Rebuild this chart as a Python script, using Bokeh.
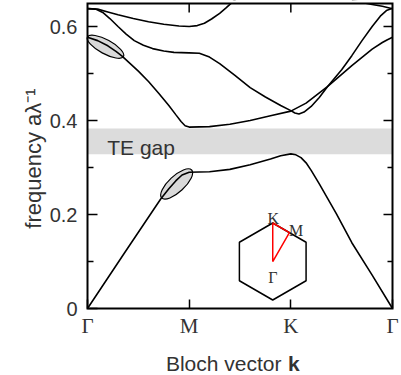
import numpy as np
from bokeh.plotting import figure
from bokeh.models import Range1d, FixedTicker, Label
from bokeh.embed import file_html
from bokeh.resources import INLINE

# ---------------- data ----------------
k_ticks = [0, 1, 2, 3]
k_tick_labels = ["Γ", "M", "K", "Γ"]
f_ticks = [0, 0.2, 0.4, 0.6]
f_minor_ticks = [0.1, 0.3, 0.5]
f_top = 0.649

gap_lo, gap_hi = 0.328, 0.383

band1_k = [0, 0.36, 0.72, 0.80, 0.87, 0.93, 1.0, 1.2, 1.4, 1.6, 1.8, 1.9, 2.0, 2.05,
           2.1, 2.15, 2.2, 2.28, 2.45, 2.6, 2.8, 3.0]
band1_f = [0, 0.117, 0.233, 0.255, 0.272, 0.284, 0.290, 0.291, 0.296, 0.306, 0.318, 0.325,
           0.329, 0.327, 0.321, 0.310, 0.294, 0.265, 0.201, 0.140, 0.071, 0.0]

band2_k = [0, 0.1, 0.2, 0.28, 0.34, 0.5, 0.6, 0.7, 0.8, 0.87, 0.92, 0.96, 1.0, 1.2, 1.4,
           1.6, 1.8, 2.0, 2.15, 2.36, 2.6, 2.8, 2.9, 2.95, 3.0]
band2_f = [0.577, 0.570, 0.559, 0.547, 0.537, 0.505, 0.483, 0.458, 0.432, 0.412, 0.398,
           0.389, 0.386, 0.387, 0.392, 0.400, 0.410, 0.420, 0.437, 0.472, 0.517, 0.552,
           0.566, 0.572, 0.577]

band3_k = [0, 0.08, 0.15, 0.22, 0.3, 0.38, 0.46, 0.55, 0.64, 0.75, 0.85, 1.0, 1.1, 1.2,
           1.3, 1.45, 1.6, 1.75, 1.9, 2.0, 2.04, 2.08, 2.13, 2.2, 2.28, 2.36, 2.5, 2.6,
           2.7, 2.8, 2.88, 2.94, 3.0]
band3_f = [0.638, 0.637, 0.630, 0.617, 0.600, 0.584, 0.570, 0.560, 0.553, 0.548, 0.545,
           0.544, 0.543, 0.535, 0.521, 0.496, 0.470, 0.450, 0.432, 0.421, 0.416, 0.414,
           0.418, 0.430, 0.449, 0.472, 0.508, 0.538, 0.570, 0.600, 0.622, 0.634, 0.639]

band4_k = [0, 0.1, 0.2, 0.3, 0.45, 0.6, 0.75, 0.9, 1.0, 1.08, 1.15, 1.22, 1.3, 1.36, 1.42, 1.46]
band4_f = [0.638, 0.637, 0.631, 0.625, 0.617, 0.610, 0.605, 0.601, 0.600, 0.602, 0.607,
           0.616, 0.628, 0.639, 0.651, 0.658]

band5_k = [2.6, 2.7, 2.8, 2.9, 3.0]
band5_f = [0.655, 0.651, 0.647, 0.643, 0.638]

# highlighted regions (centres in k / frequency)
mark_k = [0.177, 0.877]
mark_f = [0.557, 0.265]

# Brillouin-zone inset centre (k / frequency)
inset_k, inset_f = 1.822, 0.100

# ---------------- layout (pixels) ----------------
W, H = 401, 375
FL, FR, FT, FB = 87, 392, 3, 308       # plot box edges on the canvas
px_x = (FR - FL) / 3.0
px_y = (FB - FT) / f_top
x_lo, x_hi = -FL / px_x, 3 + (W - FR) / px_x
y_lo, y_hi = -(H - FB) / px_y, f_top + FT / px_y

p = figure(width=W, height=H, x_range=Range1d(x_lo, x_hi), y_range=Range1d(y_lo, y_hi),
           output_backend="svg", toolbar_location=None, min_border=0)
p.xgrid.grid_line_color = None
p.ygrid.grid_line_color = None
p.outline_line_color = None
p.background_fill_color = "white"
p.border_fill_color = "white"

TXT = "#333333"

xa = p.xaxis[0]
xa.fixed_location = 0
xa.bounds = (0, 3)
xa.ticker = FixedTicker(ticks=k_ticks)
xa.major_label_overrides = {k: s for k, s in zip(k_ticks, k_tick_labels)}
xa.major_tick_in = 9
xa.major_tick_out = 0
xa.minor_tick_line_color = None
xa.axis_line_color = None
xa.major_tick_line_width = 1.5
xa.major_label_text_font = "Liberation Serif"
xa.major_label_text_font_size = "21px"
xa.major_label_text_color = TXT
xa.major_label_standoff = 5

ya = p.yaxis[0]
ya.fixed_location = 0
ya.bounds = (0, f_top)
ya.ticker = FixedTicker(ticks=f_ticks, minor_ticks=f_minor_ticks)
ya.major_label_overrides = {0: "0"}
ya.major_tick_in = 10
ya.major_tick_out = 0
ya.minor_tick_in = 6
ya.minor_tick_out = 0
ya.axis_line_color = None
ya.major_tick_line_width = 1.5
ya.minor_tick_line_width = 1.5
ya.major_label_text_font = "Liberation Sans"
ya.major_label_text_font_size = "20px"
ya.major_label_text_color = TXT
ya.major_label_standoff = 10

# gap band
p.varea(x=[0, 3], y1=[gap_lo, gap_lo], y2=[gap_hi, gap_hi], fill_color="#dcdcdc")

# highlighted ellipses
p.ellipse(x=mark_k, y=mark_f, width=[41, 41], height=[14, 16],
          angle=[np.deg2rad(-28.5), np.deg2rad(43)],
          width_units="screen", height_units="screen",
          fill_color="#d9d9d9", line_color="black", line_width=1.2)

# bands
for bk, bf in [(band1_k, band1_f), (band2_k, band2_f), (band3_k, band3_f),
               (band4_k, band4_f), (band5_k, band5_f)]:
    p.line(bk, bf, line_color="black", line_width=1.6)

# hide what runs above the plot box
p.varea(x=[-0.05, 3.05], y1=[f_top, f_top], y2=[y_hi + 0.05, y_hi + 0.05], fill_color="white")

# plot box
p.patch([0, 0, 3, 3], [0, f_top, f_top, 0], fill_color=None, line_color="black",
        line_width=2, line_join="miter")

# inward ticks on the top and right edges
top_k = k_ticks[1:3]
p.segment(x0=top_k, y0=[f_top] * len(top_k), x1=top_k, y1=[f_top - 9 / px_y] * len(top_k),
          line_color="black", line_width=1.5)
rt_major = f_ticks[1:]
p.segment(x0=[3] * len(rt_major), y0=rt_major, x1=[3 - 9 / px_x] * len(rt_major), y1=rt_major,
          line_color="black", line_width=1.5)
p.segment(x0=[3] * len(f_minor_ticks), y0=f_minor_ticks,
          x1=[3 - 5 / px_x] * len(f_minor_ticks), y1=f_minor_ticks,
          line_color="black", line_width=1.5)

# Brillouin-zone inset
R = 38.5
ang = np.deg2rad([90, 150, 210, 270, 330, 30])
hx = inset_k + R * np.cos(ang) / px_x
hy = inset_f + R * np.sin(ang) / px_y
p.patch(hx, hy, fill_color=None, line_color="black", line_width=1.5)
Kx, Ky = hx[0], hy[0]
Mx, My = (hx[0] + hx[5]) / 2, (hy[0] + hy[5]) / 2
p.patch([inset_k, Kx, Mx], [inset_f, Ky, My], fill_color=None, line_color="red", line_width=1.5)


def add_text(x, y, text, size, font, align="center", style="normal", angle=0.0):
    p.add_layout(Label(x=x, y=y, text=text, text_font=font, text_font_size=size,
                       text_color=TXT, text_align=align, text_baseline="alphabetic",
                       text_font_style=style, angle=angle))


def inset_text(dx, dy, text):
    add_text(inset_k + dx / px_x, inset_f + dy / px_y, text, "16px", "Liberation Serif")


inset_text(0.5, 43, "K")
inset_text(23.4, 31, "M")
inset_text(0.2, -16.3, "Γ")

# gap label
add_text(0.194, 0.342, "TE gap", "21px", "Liberation Sans", align="left")

# axis titles
add_text((33 - FL) / px_x, (FB - 158) / px_y, "frequency aλ⁻¹", "22px", "Liberation Sans",
         angle=np.pi / 2)
xb = -(363 - FB) / px_y
add_text((281 - FL) / px_x, xb, "Bloch vector", "21px", "Liberation Sans", align="right")
add_text((287.5 - FL) / px_x, xb, "k", "21px", "Liberation Sans", align="left", style="bold")

open("out.html", "w").write(file_html(p, INLINE))
